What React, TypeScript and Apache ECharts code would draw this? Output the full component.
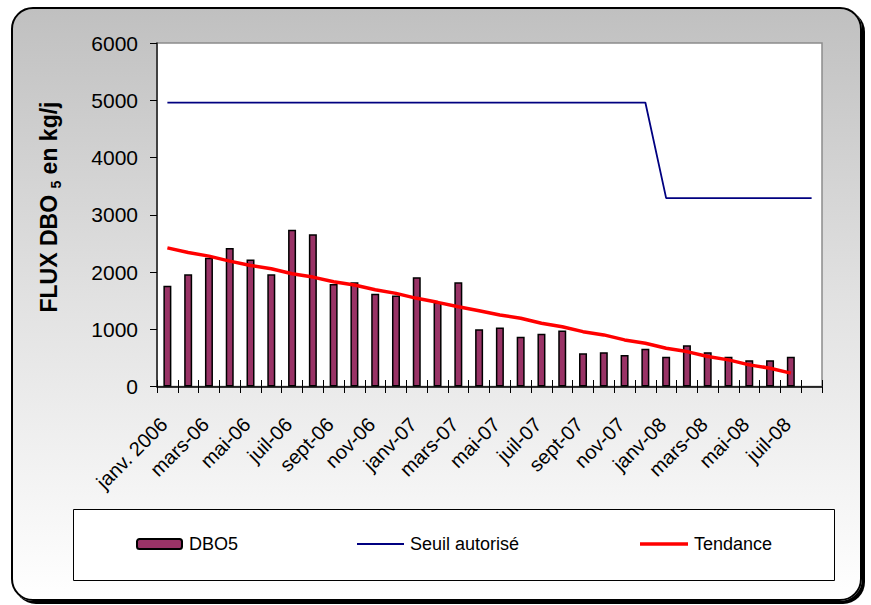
import React, { useEffect, useRef } from "react";
import * as echarts from "echarts";

const categories = [
  "janv. 2006", "févr-06", "mars-06", "avr-06", "mai-06", "juin-06", "juil-06", "août-06",
  "sept-06", "oct-06", "nov-06", "déc-06", "janv-07", "févr-07", "mars-07", "avr-07",
  "mai-07", "juin-07", "juil-07", "août-07", "sept-07", "oct-07", "nov-07", "déc-07",
  "janv-08", "févr-08", "mars-08", "avr-08", "mai-08", "juin-08", "juil-08", "août-08",
];

const dbo5 = [
  1760, 1960, 2250, 2420, 2220, 1960, 2740, 2660, 1790, 1820, 1620, 1590, 1910, 1470, 1820, 1000,
  1030, 870, 920, 980, 580, 600, 550, 660, 520, 720, 600, 520, 460, 460, 520, null,
];

const seuil = [
  4960, 4960, 4960, 4960, 4960, 4960, 4960, 4960, 4960, 4960, 4960, 4960, 4960, 4960, 4960, 4960,
  4960, 4960, 4960, 4960, 4960, 4960, 4960, 4960, 3290, 3290, 3290, 3290, 3290, 3290, 3290, 3290,
];

const tendance = [
  2422, 2341, 2277, 2190, 2115, 2056, 1969, 1911, 1829, 1772, 1690, 1627, 1540, 1470, 1394, 1324,
  1249, 1192, 1105, 1045, 958, 901, 814, 756, 669, 610, 523, 465, 378, 320, 233, null,
];

const yTicks = { min: 0, max: 6000, interval: 1000 };

const FONT = "'Liberation Sans', Arial, sans-serif";

export default function App() {
  const ref = useRef<HTMLDivElement>(null);

  useEffect(() => {
    if (!ref.current) return;
    const chart = echarts.init(ref.current, null, { renderer: "svg" });
    const legendText = { fontSize: 18, color: "#000", fontFamily: FONT, lineHeight: 20 };
    chart.setOption({
      animation: false,
      backgroundColor: "transparent",
      grid: {
        left: 157,
        right: 49,
        top: 43,
        bottom: 218.5,
        show: true,
        backgroundColor: "#ffffff",
        borderColor: "#8c8c8c",
        borderWidth: 1.5,
      },
      xAxis: [
        {
          type: "category",
          data: categories,
          boundaryGap: true,
          axisLine: { lineStyle: { color: "#000", width: 1.5 } },
          axisTick: { show: true, interval: 0, length: 6.5, lineStyle: { color: "#000", width: 1 } },
          axisLabel: {
            interval: 1,
            rotate: 45,
            margin: 31,
            padding: [0, 5, 0, 0],
            fontSize: 20,
            color: "#000",
            fontFamily: FONT,
          },
          splitLine: { show: false },
        },
        {
          type: "category",
          data: categories,
          boundaryGap: true,
          position: "bottom",
          axisLine: { show: false },
          axisTick: { show: true, inside: true, interval: 0, length: 6.5, lineStyle: { color: "#000", width: 1 } },
          axisLabel: { show: false },
          splitLine: { show: false },
        },
      ],
      yAxis: {
        type: "value",
        min: yTicks.min,
        max: yTicks.max,
        interval: yTicks.interval,
        axisLine: { show: true, lineStyle: { color: "#222", width: 1.5 } },
        axisTick: { show: true, length: 7, lineStyle: { color: "#000", width: 1 } },
        axisLabel: {
          margin: 19,
          fontSize: 21,
          color: "#000",
          fontFamily: FONT,
          formatter: (v: number) => String(v),
        },
        splitLine: { show: false },
      },
      legend: [
        {
          data: ["DBO5"],
          left: 136,
          top: 534,
          padding: 0,
          itemWidth: 45,
          itemHeight: 10,
          textStyle: { ...legendText, padding: [0, 0, 0, 2] },
        },
        {
          data: [{ name: "Seuil autorisé", icon: "rect", itemStyle: { color: "#000080", borderWidth: 0 } }],
          left: 357,
          top: 534,
          padding: 0,
          itemWidth: 47,
          itemHeight: 2,
          textStyle: { ...legendText, padding: [0, 0, 0, 1] },
        },
        {
          data: [{ name: "Tendance", icon: "rect", itemStyle: { color: "#ff0000", borderWidth: 0 } }],
          left: 640,
          top: 534,
          padding: 0,
          itemWidth: 48,
          itemHeight: 3.5,
          textStyle: { ...legendText, padding: [0, 0, 0, 1] },
        },
      ],
      graphic: [
        {
          type: "rect",
          z: 1,
          shape: { x: 73.5, y: 509.5, width: 761, height: 71 },
          style: { fill: "#ffffff", stroke: "#000", lineWidth: 1 },
        },
        {
          type: "text",
          z: 5,
          x: 49,
          y: 207,
          rotation: Math.PI / 2,
          style: {
            text: "FLUX DBO {sub|5} en kg/j",
            fontSize: 23,
            fontWeight: "bold",
            fontFamily: FONT,
            fill: "#000",
            align: "center",
            verticalAlign: "middle",
            lineHeight: 27,
            rich: {
              sub: {
                fontSize: 14,
                fontWeight: "bold",
                fontFamily: FONT,
                fill: "#000",
                verticalAlign: "bottom",
                lineHeight: 27,
              },
            },
          },
        },
      ],
      series: [
        {
          name: "DBO5",
          type: "bar",
          data: dbo5,
          barWidth: 8,
          itemStyle: { color: "#993366", borderColor: "#000", borderWidth: 1.5 },
          z: 2,
        },
        {
          name: "Seuil autorisé",
          type: "line",
          data: seuil,
          symbol: "none",
          lineStyle: { color: "#000080", width: 1.8 },
          z: 3,
        },
        {
          name: "Tendance",
          type: "line",
          data: tendance,
          symbol: "none",
          lineStyle: { color: "#ff0000", width: 3.5 },
          z: 4,
        },
      ],
    });
    return () => chart.dispose();
  }, []);

  return (
    <div style={{ position: "fixed", left: 0, top: 0, width: 871, height: 605, background: "#ffffff" }}>
      <div
        style={{
          position: "absolute",
          left: 11,
          top: 7,
          width: 851,
          height: 594,
          boxSizing: "border-box",
          border: "2px solid #000",
          borderRadius: 22,
          background: "linear-gradient(to bottom, #c0c0c0 0%, #e2e2e2 50%, #ffffff 100%)",
          boxShadow: "3px 3px 0 #000",
        }}
      />
      <div ref={ref} style={{ position: "absolute", left: 0, top: 0, width: 871, height: 605 }} />
    </div>
  );
}
